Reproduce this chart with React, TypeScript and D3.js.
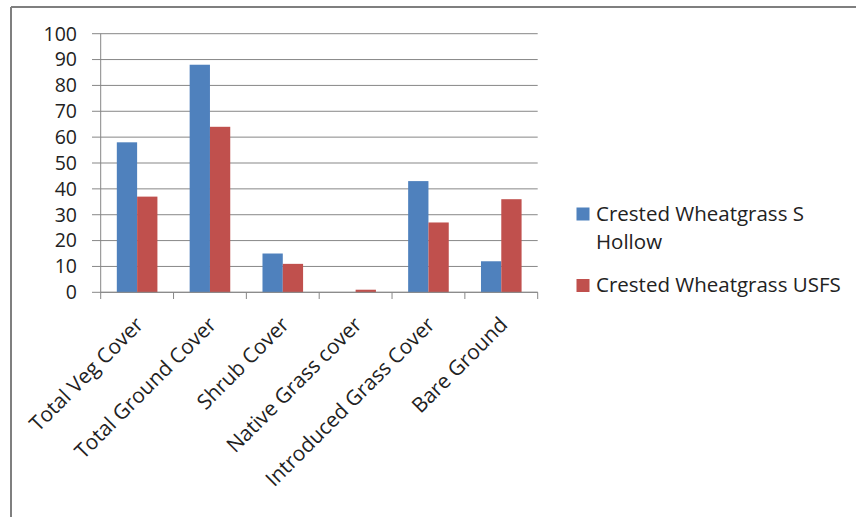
import React from "react";
import * as d3 from "d3";

const categories = [
  "Total Veg Cover",
  "Total Ground Cover",
  "Shrub Cover",
  "Native Grass cover",
  "Introduced Grass Cover",
  "Bare Ground",
];
const seriesNames = ["Crested Wheatgrass S Hollow", "Crested Wheatgrass USFS"];
const sHollow = [58, 88, 15, 0, 43, 12];
const usfs = [37, 64, 11, 1, 27, 36];
const yTicks = [0, 10, 20, 30, 40, 50, 60, 70, 80, 90, 100];
const colors = ["#4F81BD", "#C0504D"];

const W = 856;
const H = 517;
const FONT = "'Open Sans', 'Liberation Sans', sans-serif";

export default function App() {
  const x0 = d3.scaleBand<string>().domain(categories).range([100.7, 537.7]).paddingInner(0).paddingOuter(0);
  const y = d3.scaleLinear().domain([0, 100]).range([292.3, 33.7]);
  const barW = 20.3;
  const series = [sHollow, usfs];
  const grid = "#878787";

  return (
    <svg width={W} height={H} style={{ position: "absolute", left: 0, top: 0, background: "#fff" }} fontFamily={FONT}>
      <rect x={0} y={0} width={W} height={H} fill="#fff" />
      {/* outer frame */}
      <line x1={11} y1={7} x2={W} y2={7} stroke="#7f7f7f" strokeWidth={2} />
      <line x1={11} y1={7} x2={11} y2={H} stroke="#7f7f7f" strokeWidth={2} />
      {/* gridlines & y ticks */}
      {yTicks.map((t) => (
        <g key={t}>
          <line x1={92} x2={537.7} y1={y(t)} y2={y(t)} stroke={grid} strokeWidth={1} />
          <text x={77} y={y(t)} dy="0.35em" textAnchor="end" fontSize={19.5} fill="#222">
            {t}
          </text>
        </g>
      ))}
      {/* y axis */}
      <line x1={100.7} x2={100.7} y1={y(100)} y2={y(0)} stroke={grid} strokeWidth={1} />
      {/* bars */}
      {categories.map((c, i) => {
        const cx = (x0(c) as number) + x0.bandwidth() / 2;
        return series.map((s, j) => {
          const v = s[i];
          if (v <= 0) return null;
          return (
            <rect
              key={c + j}
              x={cx - barW + j * barW}
              y={y(v)}
              width={barW}
              height={y(0) - y(v)}
              fill={colors[j]}
            />
          );
        });
      })}
      {/* x axis */}
      <line x1={100.7} x2={537.7} y1={y(0)} y2={y(0)} stroke={grid} strokeWidth={1} />
      {[...categories.map((c) => x0(c) as number), 537.7].map((tx, i) => (
        <line key={i} x1={tx} x2={tx} y1={y(0)} y2={299} stroke={grid} strokeWidth={1} />
      ))}
      {categories.map((c) => {
        const cx = (x0(c) as number) + x0.bandwidth() / 2;
        return (
          <text
            key={c}
            transform={`translate(${cx + 7.5},${326}) rotate(-45)`}
            textAnchor="end"
            fontSize={20.8}
            fill="#222"
          >
            {c}
          </text>
        );
      })}
      {/* legend */}
      <rect x={576.5} y={207.5} width={13} height={13} fill={colors[0]} />
      <text x={596} y={221} fontSize={20.5} fill="#222">Crested Wheatgrass S</text>
      <text x={596} y={249} fontSize={20.5} fill="#222">Hollow</text>
      <rect x={576.5} y={279} width={13} height={13} fill={colors[1]} />
      <text x={596} y={292} fontSize={20.5} fill="#222">{seriesNames[1]}</text>
    </svg>
  );
}
